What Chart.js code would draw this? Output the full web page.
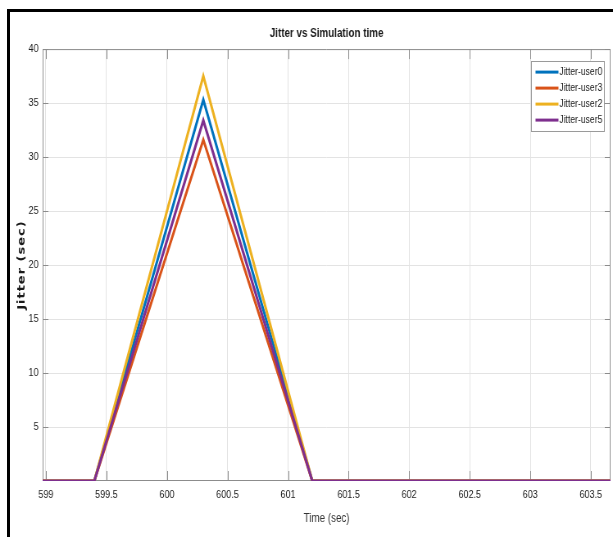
<!DOCTYPE html>
<html>
<head>
<meta charset="utf-8">
<title>Jitter vs Simulation time</title>
<script src="https://cdn.jsdelivr.net/npm/chart.js@4.4.1/dist/chart.umd.min.js"></script>
<style>
  html, body { margin: 0; padding: 0; background: #fff; }
  #wrap { position: relative; width: 613px; height: 537px; overflow: hidden; }
  /* the original figure is squeezed sideways, so draw wider and squeeze */
  #squeeze { width: 748px; height: 537px; transform: scaleX(0.8195); transform-origin: 0 0; }
  #frame {
    position: absolute; left: 7px; top: 9px; width: 700px; height: 600px;
    border-left: 3px solid #000; border-top: 3px solid #000; pointer-events: none;
  }
</style>
</head>
<body>
<div id="wrap">
  <div id="squeeze"><canvas id="myChart" width="748" height="537"></canvas></div>
  <div id="frame"></div>
</div>
<script>
// Simulation time samples (sec)
const timeSec = [598.5, 599.4, 600.3, 601.2, 602.1, 603.0, 603.9];

// Jitter per user (sec)
const jitterUser0 = [0, 0, 35.3, 0, 0, 0, 0];
const jitterUser3 = [0, 0, 31.6, 0, 0, 0, 0];
const jitterUser2 = [0, 0, 37.5, 0, 0, 0, 0];
const jitterUser5 = [0, 0, 33.4, 0, 0, 0, 0];

// Tick values shown on the axes
const xTicks = [599, 599.5, 600, 600.5, 601, 601.5, 602, 602.5, 603, 603.5];
const yTicks = [5, 10, 15, 20, 25, 30, 35, 40];

const sans = "'Liberation Sans', Arial, sans-serif";
const textColor = "#1a1a1a";

function points(ys) {
  return timeSec.map((t, i) => ({ x: t, y: ys[i] }));
}

function makeSet(label, color, ys, order) {
  return {
    label: label,
    data: points(ys),
    borderColor: color,
    backgroundColor: color,
    borderWidth: 3,
    pointRadius: 0,
    tension: 0,
    fill: false,
    order: order,
  };
}

const data = {
  datasets: [
    makeSet("Jitter-user0", "#0072BD", jitterUser0, 3),
    makeSet("Jitter-user3", "#D95319", jitterUser3, 2),
    makeSet("Jitter-user2", "#EDB120", jitterUser2, 1),
    makeSet("Jitter-user5", "#7E2F8E", jitterUser5, 0),
  ],
};

// Box round the axes with inward ticks, like the matlab figure
const axesBox = {
  id: "axesBox",
  beforeDatasetsDraw(chart) {
    const { ctx, chartArea: a, scales } = chart;
    ctx.save();
    ctx.strokeStyle = "#8c8c8c";
    ctx.lineWidth = 1;
    ctx.beginPath();
    ctx.rect(a.left + 0.5, a.top + 0.5, a.right - a.left - 1, a.bottom - a.top - 1);
    xTicks.forEach(v => {
      const x = Math.round(scales.x.getPixelForValue(v)) + 0.5;
      ctx.moveTo(x, a.bottom); ctx.lineTo(x, a.bottom - 10);
      ctx.moveTo(x, a.top); ctx.lineTo(x, a.top + 10);
    });
    yTicks.forEach(v => {
      const y = Math.round(scales.y.getPixelForValue(v)) + 0.5;
      ctx.moveTo(a.left, y); ctx.lineTo(a.left + 7, y);
      ctx.moveTo(a.right, y); ctx.lineTo(a.right - 7, y);
    });
    ctx.stroke();

    // y axis title, bold and a little spaced out
    ctx.fillStyle = textColor;
    ctx.font = "bold 13px 'DejaVu Sans', sans-serif";
    ctx.letterSpacing = "1px";
    ctx.textAlign = "center";
    ctx.textBaseline = "middle";
    ctx.translate(27, (a.top + a.bottom) / 2);
    ctx.rotate(-Math.PI / 2);
    ctx.fillText("Jitter (sec)", 0, 0);
    ctx.restore();
  },
};

// Legend inside the top right corner
const boxLegend = {
  id: "boxLegend",
  afterDraw(chart) {
    const { ctx, chartArea: a } = chart;
    const sets = chart.data.datasets;
    ctx.save();
    ctx.font = "10.5px " + sans;
    let textW = 0;
    sets.forEach(s => { textW = Math.max(textW, ctx.measureText(s.label).width); });
    const w = 5 + 28 + 1 + textW + 2;
    const h = 70;
    const left = a.right - 8 - w;
    const top = a.top + 12;
    ctx.fillStyle = "#fff";
    ctx.fillRect(left, top, w, h);
    ctx.strokeStyle = "#9a9a9a";
    ctx.lineWidth = 1;
    ctx.strokeRect(Math.round(left) + 0.5, Math.round(top) + 0.5, Math.round(w), h);
    ctx.textBaseline = "middle";
    ctx.textAlign = "left";
    sets.forEach((s, i) => {
      const y = top + 11 + i * 16;
      ctx.strokeStyle = s.borderColor;
      ctx.lineWidth = 3;
      ctx.beginPath();
      ctx.moveTo(left + 5, y);
      ctx.lineTo(left + 33, y);
      ctx.stroke();
      ctx.fillStyle = textColor;
      ctx.fillText(s.label, left + 34, y);
    });
    ctx.restore();
  },
};

const config = {
  type: "line",
  data: data,
  plugins: [axesBox, boxLegend],
  options: {
    responsive: false,
    animation: false,
    layout: { padding: { left: 0, right: 3, top: 0, bottom: 0 } },
    plugins: {
      legend: { display: false },
      tooltip: { enabled: false },
      title: {
        display: true,
        fullSize: false,
        text: "Jitter vs Simulation time",
        color: textColor,
        font: { family: sans, size: 12, weight: "bold", lineHeight: 1.2 },
        padding: { top: 26.5, bottom: 8.2 },
      },
    },
    scales: {
      x: {
        type: "linear",
        min: 598.973,
        max: 603.663,
        afterBuildTicks: s => { s.ticks = xTicks.map(v => ({ value: v })); },
        afterFit: s => { s.height = 56; },
        border: { display: false },
        grid: { color: "#e3e3e3", drawTicks: false },
        ticks: {
          color: textColor,
          padding: 7,
          maxRotation: 0,
          autoSkip: false,
          font: { family: sans, size: 11 },
          callback: v => String(v),
        },
        title: {
          display: true,
          text: "Time (sec)",
          color: "#333",
          font: { family: sans, size: 12, lineHeight: 1.2 },
          padding: { top: 0, bottom: 11 },
        },
      },
      y: {
        min: 0,
        max: 40,
        afterBuildTicks: s => { s.ticks = yTicks.map(v => ({ value: v })); },
        afterFit: s => { s.width = 52; },
        border: { display: false },
        grid: { color: "#e3e3e3", drawTicks: false },
        ticks: {
          color: textColor,
          padding: 5,
          font: { family: sans, size: 11 },
          callback: v => String(v),
        },
      },
    },
  },
};

const myChart = new Chart(document.getElementById("myChart").getContext("2d"), config);
</script>
</body>
</html>
